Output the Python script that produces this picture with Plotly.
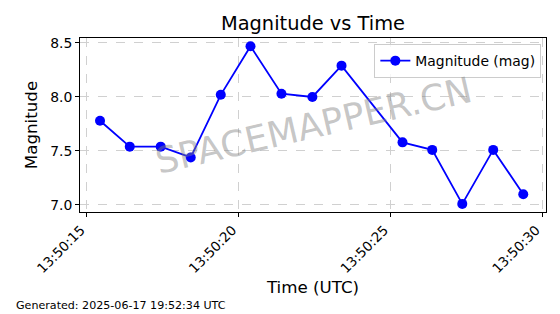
import plotly.graph_objects as go

times = ["2025-06-17 13:50:15.43", "2025-06-17 13:50:16.41", "2025-06-17 13:50:17.43",
         "2025-06-17 13:50:18.42", "2025-06-17 13:50:19.41", "2025-06-17 13:50:20.39",
         "2025-06-17 13:50:21.41", "2025-06-17 13:50:22.43", "2025-06-17 13:50:23.39",
         "2025-06-17 13:50:25.40", "2025-06-17 13:50:26.38", "2025-06-17 13:50:27.37",
         "2025-06-17 13:50:28.39", "2025-06-17 13:50:29.38"]
magnitude = [7.78, 7.54, 7.54, 7.44, 8.02, 8.47, 8.03, 8.00, 8.29, 7.58, 7.51, 7.01, 7.51, 7.10]

FONT = "DejaVu Sans"

fig = go.Figure()
fig.add_trace(go.Scatter(
    x=times, y=magnitude, mode="lines+markers", name="Magnitude (mag)",
    line=dict(color="#0000ff", width=1.8),
    marker=dict(color="#0000ff", size=10),
))

fig.update_layout(
    width=560, height=314,
    margin=dict(l=80, r=14, t=38, b=102),
    paper_bgcolor="white", plot_bgcolor="white",
    font=dict(family=FONT, color="black", size=13.9),
    title=dict(text="Magnitude vs Time", x=313/560, xanchor="center",
               y=1 - 23/314, yanchor="middle", font=dict(size=19.4, family=FONT)),
    showlegend=True,
    legend=dict(x=0.99, y=0.965, xanchor="right", yanchor="top",
                bgcolor="rgba(255,255,255,0.8)", bordercolor="#cccccc", borderwidth=1,
                font=dict(size=13.9, family=FONT)),
    xaxis=dict(
        type="date",
        range=["2025-06-17 13:50:14.77", "2025-06-17 13:50:30.13"],
        tickformat="%H:%M:%S", dtick=5000, tick0="2025-06-17 13:50:15",
        tickangle=-45, ticks="outside", ticklen=4, tickcolor="black",
        ticklabelshift=-6,
        showline=True, linecolor="black", linewidth=1, mirror=True,
        showgrid=True, gridcolor="#d0d0d0", griddash="dash", gridwidth=0.8,
        zeroline=False, tickfont=dict(size=13.5, family=FONT),
        title=dict(text="Time (UTC)", font=dict(size=16.7, family=FONT), standoff=6),
    ),
    yaxis=dict(
        range=[6.935, 8.546], tickvals=[7.0, 7.5, 8.0, 8.5], ticktext=["7.0", "7.5", "8.0", "8.5"],
        ticks="outside", ticklen=4, tickcolor="black",
        showline=True, linecolor="black", linewidth=1, mirror=True,
        showgrid=True, gridcolor="#d0d0d0", griddash="dash", gridwidth=0.8,
        zeroline=False, tickfont=dict(size=13.9, family=FONT),
        title=dict(text="Magnitude", font=dict(size=16.7, family=FONT), standoff=8),
    ),
)

fig.add_annotation(text="SPACEMAPPER.CN", xref="paper", yref="paper",
                   x=0.5, y=0.5, showarrow=False, textangle=-13,
                   font=dict(size=36, family=FONT, color="rgba(128,128,128,0.45)"))

fig.add_annotation(text="Generated: 2025-06-17 19:52:34 UTC", xref="paper", yref="paper",
                   x=17/560 - 80/466, xanchor="left", y=-(305-212)/174, yanchor="middle",
                   showarrow=False, font=dict(size=11.1, family=FONT, color="black"))

fig.write_html("out.html")
